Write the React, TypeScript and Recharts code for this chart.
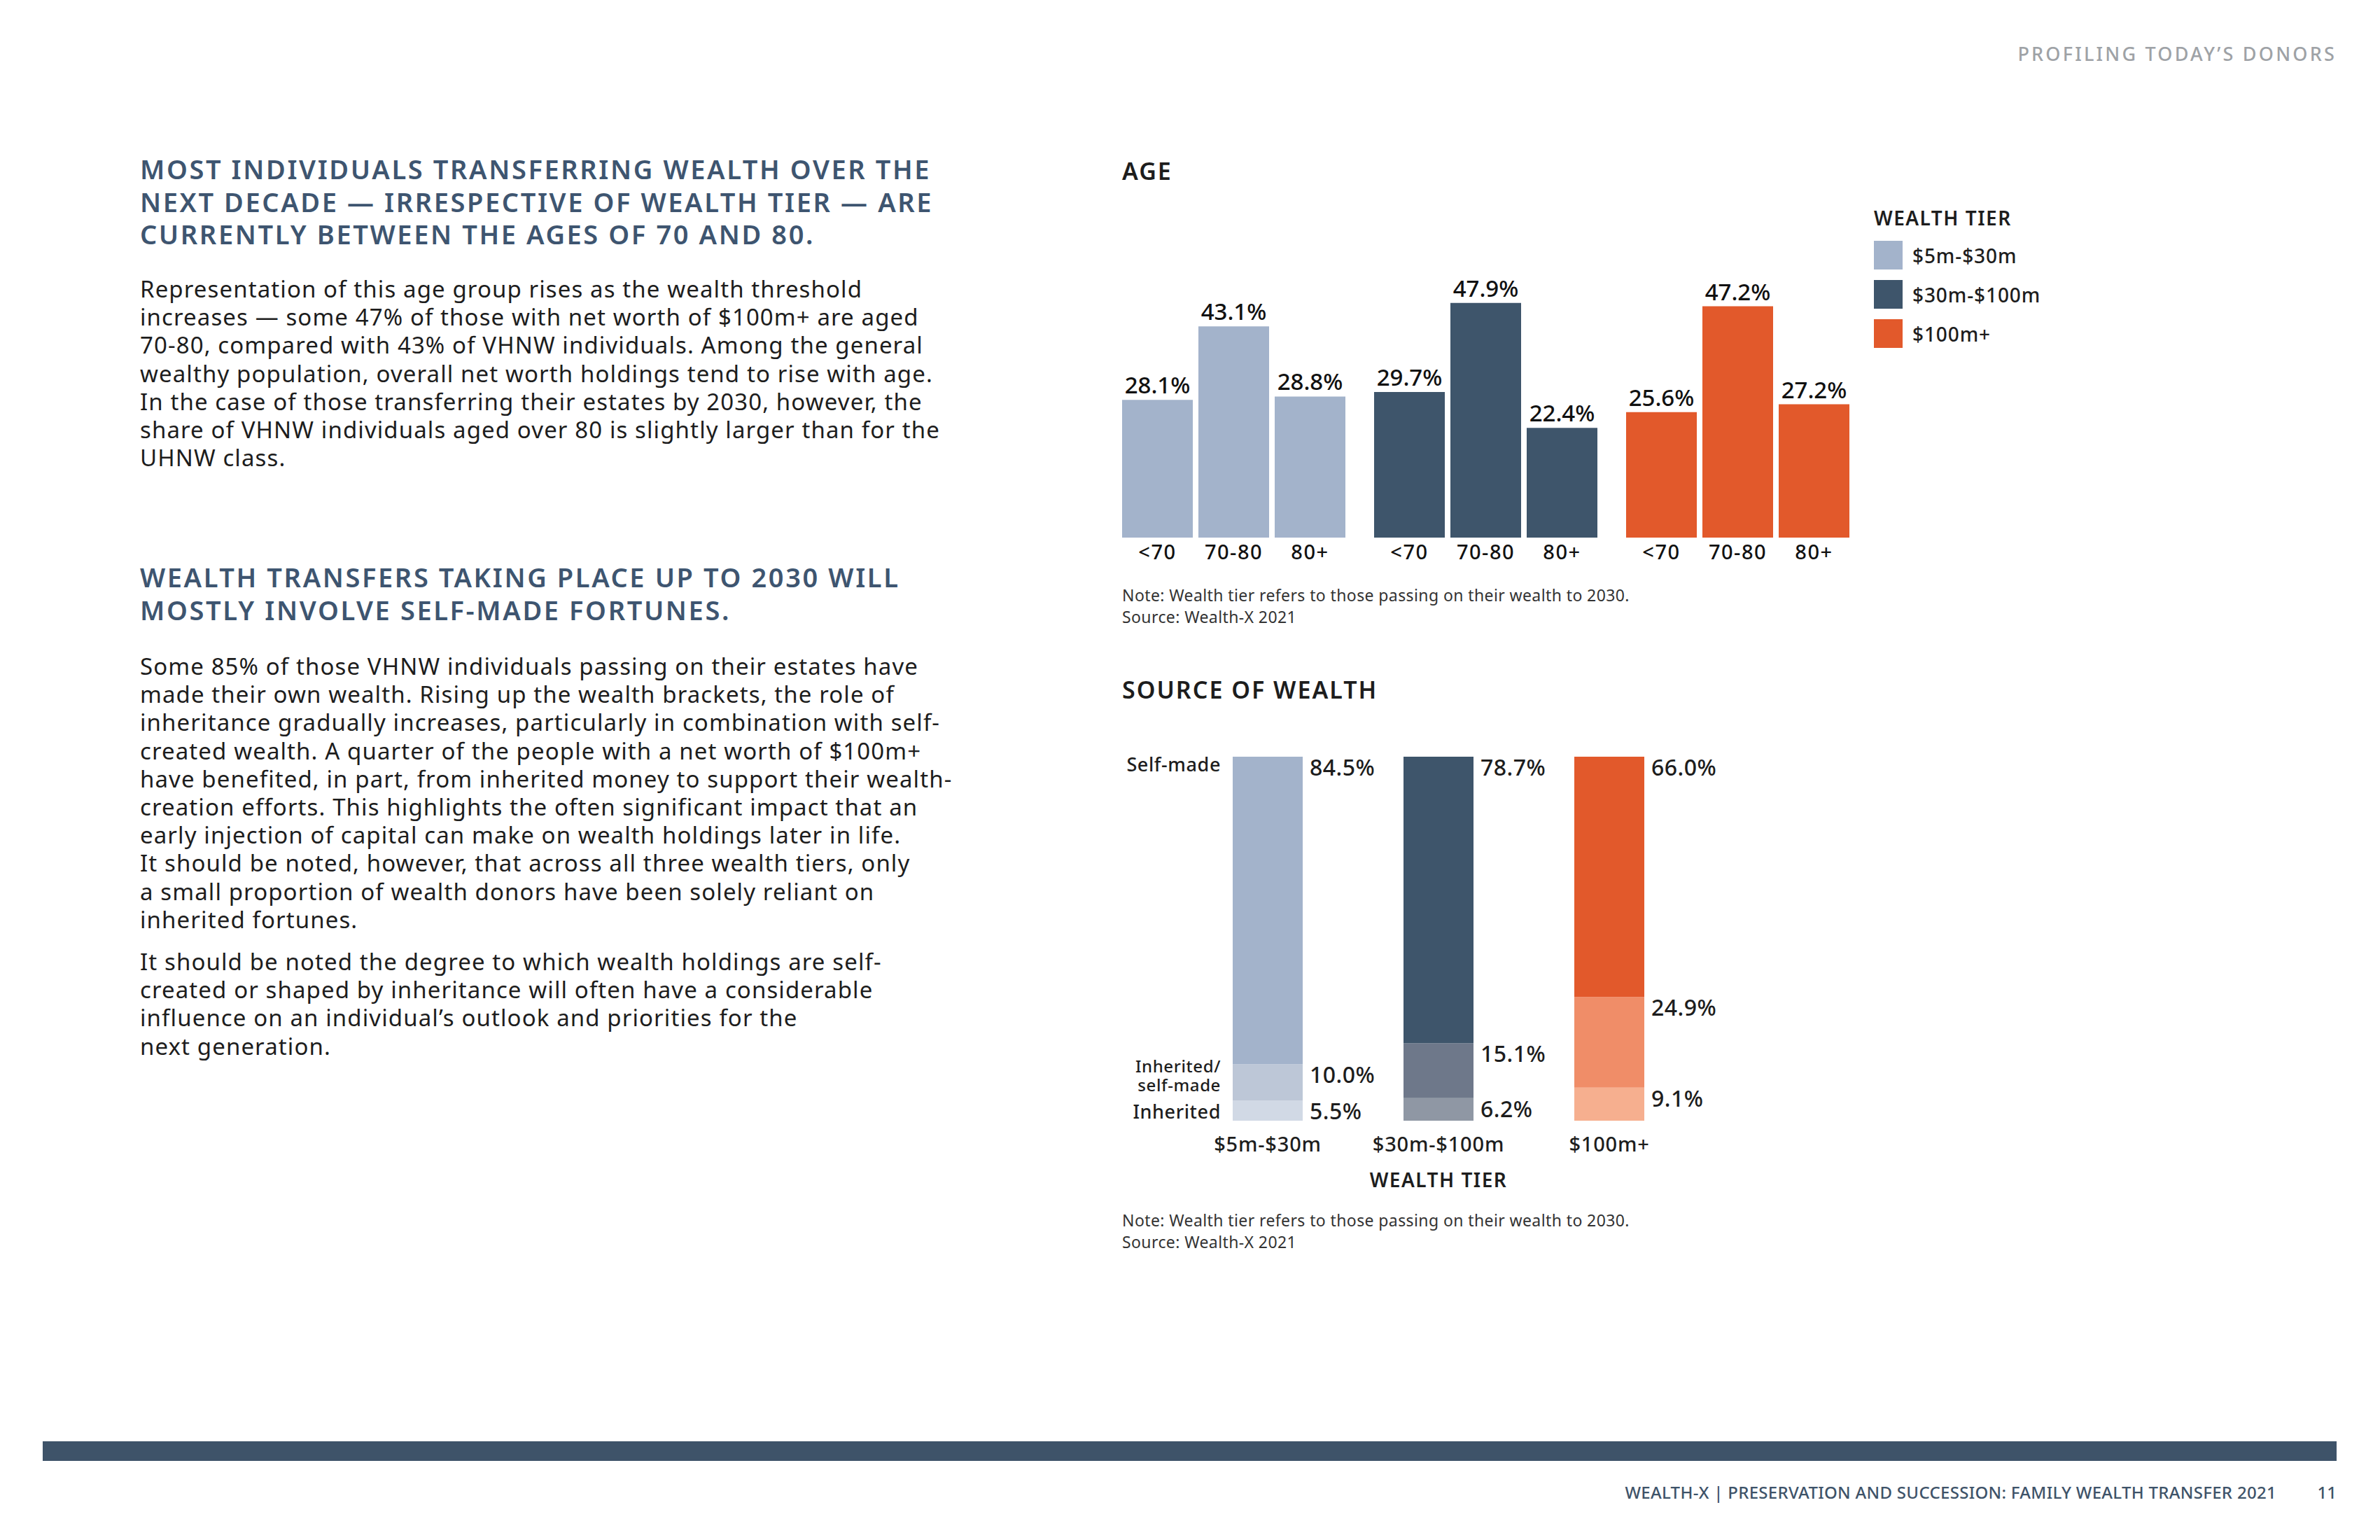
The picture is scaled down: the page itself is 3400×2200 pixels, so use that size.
import { Bar, BarChart, Cell, LabelList, XAxis, YAxis } from 'recharts';

const tiers = ['$5m-$30m', '$30m-$100m', '$100m+'];
const ageGroups = ['<70', '70-80', '80+'];
const under70 = [28.1, 29.7, 25.6];
const from70to80 = [43.1, 47.9, 47.2];
const over80 = [28.8, 22.4, 27.2];

const selfMade = [84.5, 78.7, 66.0];
const mixedSource = [10.0, 15.1, 24.9];
const inherited = [5.5, 6.2, 9.1];

const tierColors = ['#A3B3CB', '#3E556B', '#E2592B'];
const mixedColors = ['#BDC7D7', '#6E788A', '#F08D68'];
const inheritedColors = ['#D1D9E5', '#8F97A4', '#F6AF8F'];

const ageKeys = ['u70', 'a7080', 'o80'];
const ageData = tiers.map((tier, i) => ({ tier, u70: under70[i], a7080: from70to80[i], o80: over80[i] }));
const sourceData = tiers.map((tier, i) => ({
    tier,
    inherited: inherited[i],
    mixed: mixedSource[i],
    selfMade: selfMade[i],
}));

const FONT = "'Noto Sans', sans-serif";
const HEAD = '#3E5570';
const INK = '#1d1d1d';

const para1 = [
    'Representation of this age group rises as the wealth threshold',
    'increases \u2014 some 47% of those with net worth of $100m+ are aged',
    '70-80, compared with 43% of VHNW individuals. Among the general',
    'wealthy population, overall net worth holdings tend to rise with age.',
    'In the case of those transferring their estates by 2030, however, the',
    'share of VHNW individuals aged over 80 is slightly larger than for the',
    'UHNW class.',
];
const para2 = [
    'Some 85% of those VHNW individuals passing on their estates have',
    'made their own wealth. Rising up the wealth brackets, the role of',
    'inheritance gradually increases, particularly in combination with self-',
    'created wealth. A quarter of the people with a net worth of $100m+',
    'have benefited, in part, from inherited money to support their wealth-',
    'creation efforts. This highlights the often significant impact that an',
    'early injection of capital can make on wealth holdings later in life.',
    'It should be noted, however, that across all three wealth tiers, only',
    'a small proportion of wealth donors have been solely reliant on',
    'inherited fortunes.',
];
const para3 = [
    'It should be noted the degree to which wealth holdings are self-',
    'created or shaped by inheritance will often have a considerable',
    'influence on an individual\u2019s outlook and priorities for the',
    'next generation.',
];
const heading1 = [
    'MOST INDIVIDUALS TRANSFERRING WEALTH OVER THE',
    'NEXT DECADE \u2014 IRRESPECTIVE OF WEALTH TIER \u2014 ARE',
    'CURRENTLY BETWEEN THE AGES OF 70 AND 80.',
];
const heading2 = ['WEALTH TRANSFERS TAKING PLACE UP TO 2030 WILL', 'MOSTLY INVOLVE SELF-MADE FORTUNES.'];

const Lines = ({ lines, style }: { lines: string[]; style: React.CSSProperties }) => (
    <div style={{ position: 'absolute', whiteSpace: 'nowrap', fontFamily: FONT, ...style }}>
        {lines.map((l, i) => (
            <div key={i}>{l}</div>
        ))}
    </div>
);

const headStyle = { color: HEAD, fontSize: 38, lineHeight: '46.5px', fontWeight: 600, letterSpacing: 2.6, left: 200 };
const bodyStyle = { color: INK, fontSize: 33, lineHeight: '40.2px', fontWeight: 400, letterSpacing: 1.1, left: 200 };
const noteStyle = { color: '#333', fontSize: 23, lineHeight: '31px', letterSpacing: 0.4, left: 1603 };

const box = (p: any) => {
    const v = p.viewBox ?? p;
    return { x: Number(v.x), y: Number(v.y), w: Number(v.width), h: Number(v.height) };
};

const App = () => {
    return (
        <div style={{ position: 'absolute', left: 0, top: 0, width: 3400, height: 2200, background: '#fff', fontFamily: FONT }}>
            <div style={{ position: 'absolute', right: 62, top: 58, fontSize: 27, letterSpacing: 3.2, color: '#9EA2A6', fontWeight: 500 }}>
                PROFILING TODAY&rsquo;S DONORS
            </div>

            <Lines lines={heading1} style={{ ...headStyle, top: 218 }} />
            <Lines lines={para1} style={{ ...bodyStyle, top: 393 }} />
            <Lines lines={heading2} style={{ ...headStyle, top: 801 }} />
            <Lines lines={para2} style={{ ...bodyStyle, top: 932 }} />
            <Lines lines={para3} style={{ ...bodyStyle, top: 1354 }} />

            {/* AGE */}
            <div style={{ position: 'absolute', left: 1603, top: 221, fontSize: 34, fontWeight: 600, letterSpacing: 2, color: INK }}>AGE</div>
            <div style={{ position: 'absolute', left: 1582, top: 348 }}>
                <BarChart width={1080} height={470} data={ageData} margin={{ top: 0, right: 0, bottom: 50, left: 0 }} barCategoryGap={21} barGap={8}>
                    <XAxis dataKey="tier" hide />
                    <YAxis hide domain={[0, 60]} />
                    {ageKeys.map((key, k) => (
                        <Bar key={key} dataKey={key} isAnimationActive={false}>
                            {ageData.map((d) => (
                                <Cell key={`${key}-${d.tier}`} fill={tierColors[tiers.indexOf(d.tier)]} />
                            ))}
                            <LabelList
                                dataKey={key}
                                position="top"
                                offset={9}
                                formatter={(v: any) => `${Number(v).toFixed(1)}%`}
                                fill="#111"
                                fontSize={33}
                                fontWeight={500}
                                fontFamily={FONT}
                            />
                            <LabelList
                                dataKey={key}
                                content={(p: any) => {
                                    const b = box(p);
                                    return (
                                        <text x={b.x + b.w / 2} y={b.y + b.h + 31} textAnchor="middle" fill="#111" fontSize={29} fontWeight={500} fontFamily={FONT} letterSpacing={1.5}>
                                            {ageGroups[k]}
                                        </text>
                                    );
                                }}
                            />
                        </Bar>
                    ))}
                </BarChart>
            </div>
            <Lines
                lines={['Note: Wealth tier refers to those passing on their wealth to 2030.', 'Source: Wealth-X 2021']}
                style={{ ...noteStyle, top: 835 }}
            />

            {/* LEGEND */}
            <div style={{ position: 'absolute', left: 2677, top: 292, fontSize: 28, fontWeight: 600, letterSpacing: 1.5, color: INK }}>WEALTH TIER</div>
            {tiers.map((t, i) => (
                <div key={t} style={{ position: 'absolute', left: 2677, top: 344 + i * 56, height: 41, display: 'flex', alignItems: 'center' }}>
                    <div style={{ width: 41, height: 41, background: tierColors[i] }} />
                    <span style={{ marginLeft: 14, fontSize: 28, fontWeight: 500, color: INK, letterSpacing: 0.9 }}>{t}</span>
                </div>
            ))}

            {/* SOURCE OF WEALTH */}
            <div style={{ position: 'absolute', left: 1603, top: 962, fontSize: 34, fontWeight: 600, letterSpacing: 2, color: INK }}>SOURCE OF WEALTH</div>
            <div style={{ position: 'absolute', left: 1580, top: 1061 }}>
                <BarChart width={1000} height={660} data={sourceData} margin={{ top: 20, right: 159, bottom: 20, left: 109 }} barSize={100}>
                    <XAxis
                        dataKey="tier"
                        axisLine={false}
                        tickLine={false}
                        tickSize={0}
                        tickMargin={23}
                        height={100}
                        interval={0}
                        tick={{ fill: INK, fontSize: 29, fontWeight: 500, fontFamily: FONT, letterSpacing: 0.8 }}
                        label={{ value: 'WEALTH TIER', position: 'insideBottom', offset: 5, fill: INK, fontSize: 28, fontWeight: 600, fontFamily: FONT, letterSpacing: 1.5 }}
                    />
                    <YAxis hide domain={[0, 100]} />
                    {[
                        { key: 'inherited', colors: inheritedColors },
                        { key: 'mixed', colors: mixedColors },
                        { key: 'selfMade', colors: tierColors },
                    ].map((s) => (
                        <Bar key={s.key} dataKey={s.key} stackId="src" isAnimationActive={false}>
                            {sourceData.map((d, i) => (
                                <Cell key={`${s.key}-${d.tier}`} fill={s.colors[i]} />
                            ))}
                            <LabelList
                                dataKey={s.key}
                                content={(p: any) => {
                                    const b = box(p);
                                    const idx = Number(p.index);
                                    const left = b.x - 17;
                                    const common = { fill: INK, fontSize: 27, fontWeight: 500, fontFamily: FONT, textAnchor: 'end' as const, letterSpacing: 0.6 };
                                    return (
                                        <g>
                                            <text x={b.x + b.w + 10} y={b.y + 27} fill={INK} fontSize={32} fontWeight={500} fontFamily={FONT} letterSpacing={0.5}>
                                                {`${Number(p.value).toFixed(1)}%`}
                                            </text>
                                            {idx === 0 && s.key === 'selfMade' && (
                                                <text x={left} y={b.y + 21} {...common}>Self-made</text>
                                            )}
                                            {idx === 0 && s.key === 'mixed' && (
                                                <text x={left} y={b.y + 12} {...common} fontSize={24}>
                                                    <tspan x={left} dy={0}>Inherited/</tspan>
                                                    <tspan x={left} dy={27}>self-made</tspan>
                                                </text>
                                            )}
                                            {idx === 0 && s.key === 'inherited' && (
                                                <text x={left} y={b.y + b.h - 3} {...common}>Inherited</text>
                                            )}
                                        </g>
                                    );
                                }}
                            />
                        </Bar>
                    ))}
                </BarChart>
            </div>
            <Lines
                lines={['Note: Wealth tier refers to those passing on their wealth to 2030.', 'Source: Wealth-X 2021']}
                style={{ ...noteStyle, top: 1728 }}
            />

            {/* FOOTER */}
            <div style={{ position: 'absolute', left: 61, top: 2059, width: 3277, height: 28, background: '#3E5369' }} />
            <div style={{ position: 'absolute', right: 148, top: 2115, fontSize: 24, fontWeight: 500, color: '#3E5369', letterSpacing: 0.3 }}>
                WEALTH-X | PRESERVATION AND SUCCESSION: FAMILY WEALTH TRANSFER 2021
            </div>
            <div style={{ position: 'absolute', right: 62, top: 2115, fontSize: 24, fontWeight: 500, color: '#3E5369' }}>11</div>
        </div>
    );
};

export default App;
